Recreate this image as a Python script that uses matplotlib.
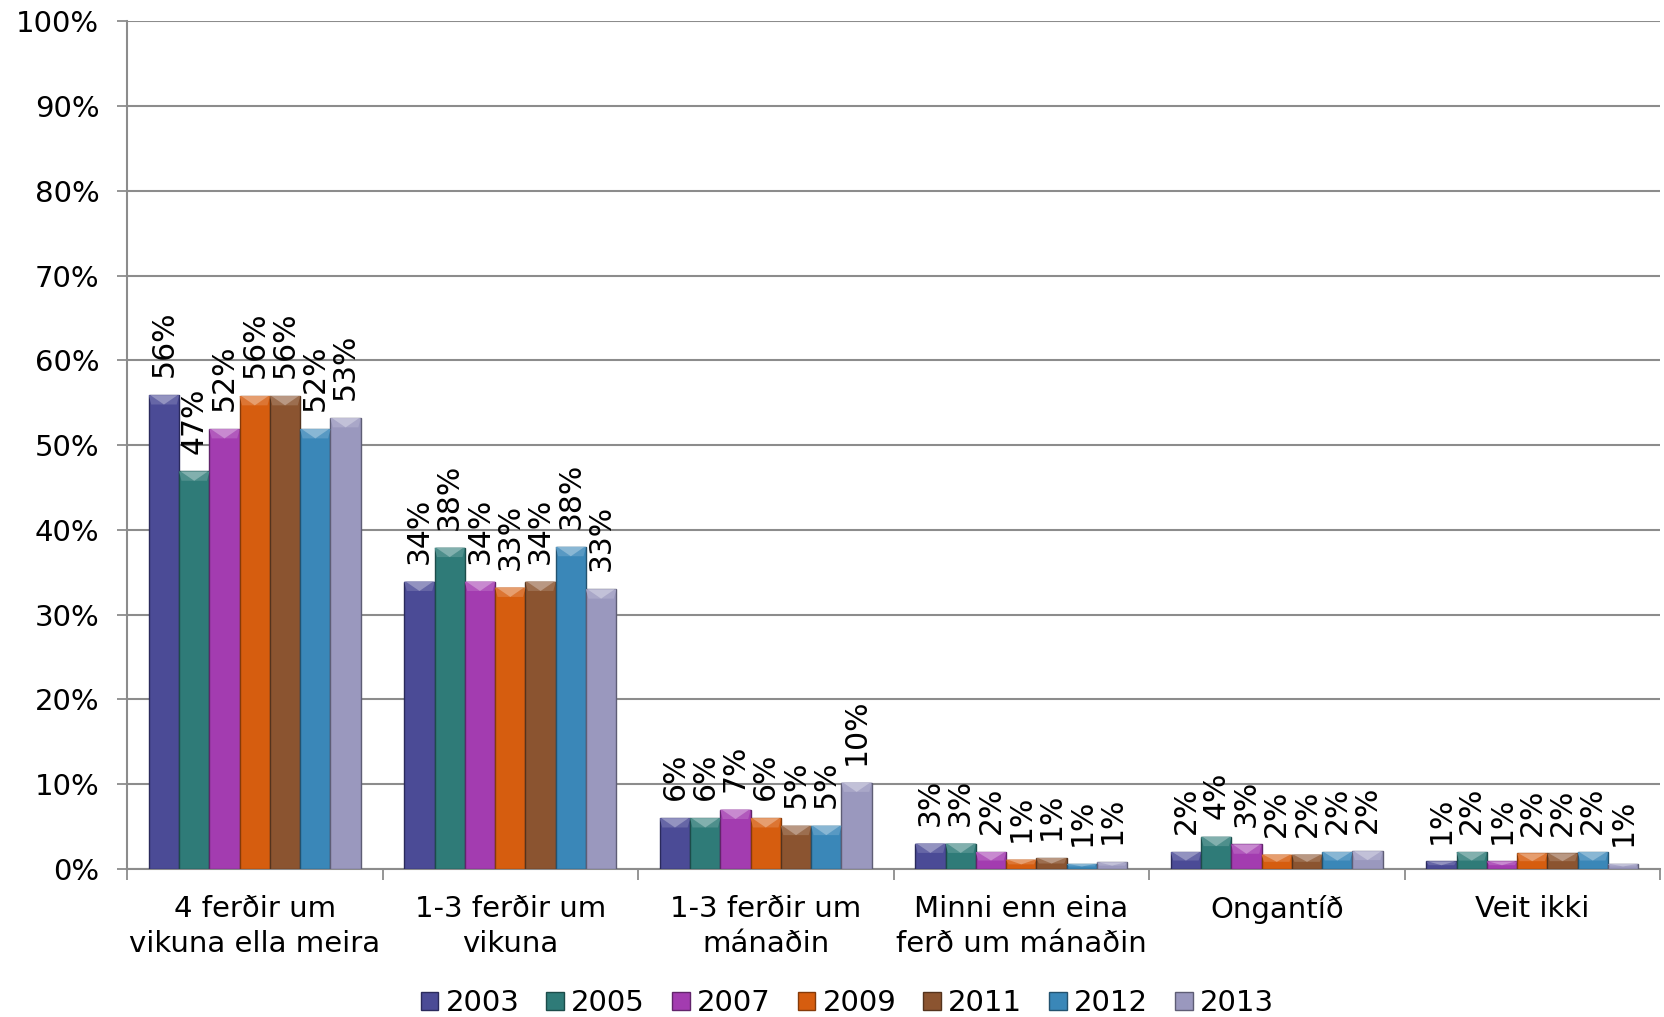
import matplotlib
matplotlib.use("Agg")
import matplotlib.pyplot as plt
from matplotlib.patches import Polygon
from matplotlib.colors import to_rgb
import numpy as np

categories = ["4 ferðir um\nvikuna ella meira", "1-3 ferðir um\nvikuna", "1-3 ferðir um\nmánaðin",
              "Minni enn eina\nferð um mánaðin", "Ongantíð", "Veit ikki"]
years = ["2003", "2005", "2007", "2009", "2011", "2012", "2013"]

v2003 = [55.9, 33.9, 6.0, 3.0, 2.0, 0.9]
v2005 = [46.9, 37.9, 6.0, 3.0, 3.8, 2.0]
v2007 = [51.9, 33.9, 7.0, 2.0, 2.9, 0.9]
v2009 = [55.8, 33.2, 6.0, 1.1, 1.7, 1.85]
v2011 = [55.8, 33.9, 5.1, 1.3, 1.7, 1.85]
v2012 = [51.9, 38.0, 5.1, 0.6, 2.0, 2.0]
v2013 = [53.2, 33.0, 10.2, 0.8, 2.1, 0.6]
series = [v2003, v2005, v2007, v2009, v2011, v2012, v2013]

colors = ["#4B4B96", "#2F7B78", "#A33CB0", "#D65D0F", "#8B5430", "#3A87B8", "#9A98BE"]
edges = ["#2A2A5C", "#1C4C4A", "#62246B", "#853A09", "#54331D", "#23526F", "#5E5D75"]

yticks = list(range(0, 101, 10))
ytick_labels = [f"{t}%" for t in yticks]

plt.rcParams["font.family"] = ["DejaVu Sans"]

fig = plt.figure(figsize=(16.65, 10.17), dpi=100)
ax = fig.add_axes([0.0763, 0.1455, 0.9207, 0.8335])

x = np.arange(len(categories))
w = 0.1185
n = len(years)


def lighten(c, f):
    r, g, b = to_rgb(c)
    return (r + (1 - r) * f, g + (1 - g) * f, b + (1 - b) * f)


for i, (yr, vals) in enumerate(zip(years, series)):
    pos = x + (i - (n - 1) / 2) * w
    bars = ax.bar(pos, vals, width=w, color=colors[i], edgecolor=edges[i],
                  linewidth=1.0, label=yr, zorder=3)
    for rect, v in zip(bars, vals):
        x0 = rect.get_x()
        x1 = x0 + rect.get_width()
        xc = x0 + rect.get_width() / 2
        top = rect.get_height()
        h = min(1.1, top * 0.5)
        # bevelled cap
        band = Polygon([(x0, top), (x1, top), (x1 - w * 0.08, top - h), (x0 + w * 0.08, top - h)],
                       closed=True, facecolor=lighten(colors[i], 0.15), edgecolor="none", zorder=4)
        tri = Polygon([(x0 + w * 0.05, top), (x1 - w * 0.05, top), (xc, top - h)],
                      closed=True, facecolor=lighten(colors[i], 0.4), edgecolor="none", zorder=5)
        ax.add_patch(band)
        ax.add_patch(tri)
        ax.text(xc, top + 2.1, f"{int(v + 0.5)}%", rotation=90, ha="center", va="bottom",
                fontsize=21.5, zorder=6)

ax.set_ylim(0, 100)
ax.set_xlim(-0.5, len(categories) - 0.5)
ax.set_yticks(yticks)
ax.set_yticklabels(ytick_labels, fontsize=21)
ax.yaxis.grid(True, color="#8C8C8C", linewidth=1.5, zorder=0)
ax.set_axisbelow(True)

ax.set_xticks(x)
ax.set_xticklabels(categories, fontsize=21, linespacing=1.3)
ax.set_xticks(np.arange(-0.5, len(categories), 1.0), minor=True)
ax.tick_params(axis="x", which="major", length=0, pad=19)
ax.tick_params(axis="x", which="minor", length=8, width=1.3, color="#8C8C8C", direction="out")
ax.tick_params(axis="y", length=7, width=1.3, color="#8C8C8C", pad=13)

for side in ["top", "right"]:
    ax.spines[side].set_visible(False)
for side in ["left", "bottom"]:
    ax.spines[side].set_color("#8C8C8C")
    ax.spines[side].set_linewidth(1.5)

handles, labels = ax.get_legend_handles_labels()
fig.legend(handles, labels, loc="center", bbox_to_anchor=(0.509, 0.0135), ncol=7,
           frameon=False, fontsize=21, handlelength=0.6, handleheight=0.62,
           handletextpad=0.25, columnspacing=0.93)

fig.savefig("out.png", dpi=100)
